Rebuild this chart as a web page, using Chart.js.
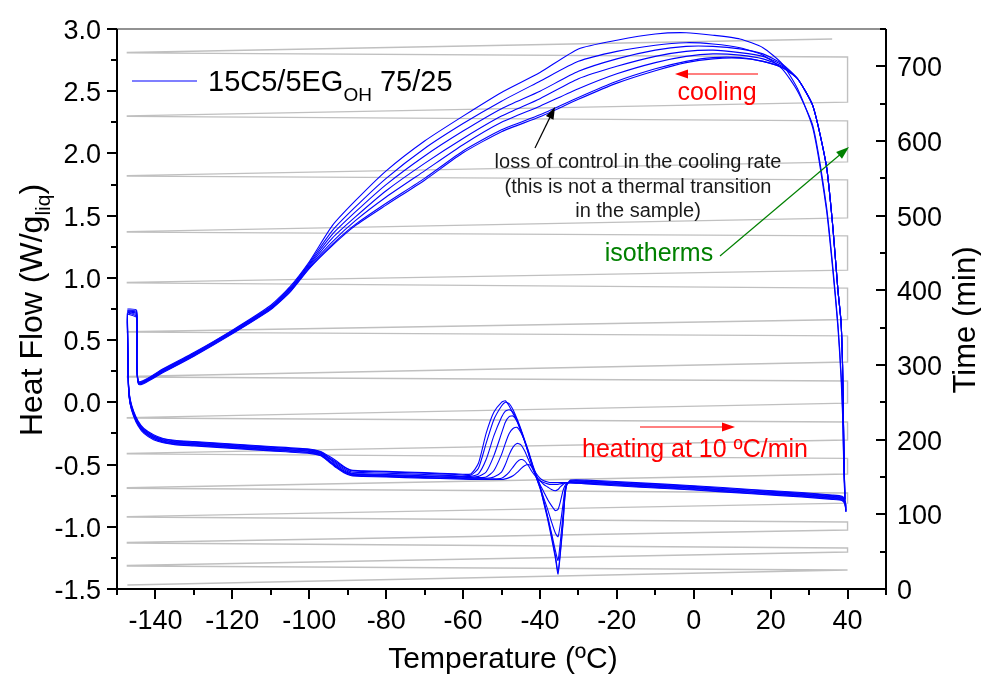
<!DOCTYPE html>
<html>
<head>
<meta charset="utf-8">
<title>DSC 15C5/5EGOH 75/25</title>
<script src="https://cdn.jsdelivr.net/npm/chart.js@4.4.1/dist/chart.umd.min.js"></script>
<style>
  html, body { margin: 0; padding: 0; background: #fff; }
  canvas { display: block; }
</style>
</head>
<body>
<canvas id="dscChart" width="981" height="680"></canvas>
<script>
// temperature grid (ºC) shared by the heating runs
var heatTemp = [-147.3, -147.2, -147.0, -146.6, -145.7, -144.5, -143, -140.5, -138, -135,
    -130, -120, -110, -100, -97, -95, -93, -91, -89, -86,
    -80, -70, -62, -58, -56, -54, -52, -50, -49, -48,
    -47, -46, -45, -44, -43, -42, -41, -40, -39, -38,
    -37, -36, -35.3, -34.7, -34, -33.5, -33, -32, -28, -15,
    0, 15, 28, 36, 38.6, 39.3, 39.6];

// heat flow (W/g) on heating, one array per run
var heatRun1 = [0.72, 0.45, 0.15, 0.03, -0.07, -0.15, -0.21, -0.26, -0.29, -0.305,
    -0.315, -0.335, -0.355, -0.375, -0.395, -0.43, -0.47, -0.515, -0.545, -0.55,
    -0.555, -0.565, -0.575, -0.575, -0.49, -0.25, -0.08, 0.0, 0.012, -0.03,
    -0.09, -0.15, -0.23, -0.31, -0.40, -0.50, -0.59, -0.68, -0.81, -0.94,
    -1.09, -1.25, -1.38, -1.22, -0.98, -0.76, -0.66, -0.625, -0.625, -0.645,
    -0.67, -0.70, -0.725, -0.745, -0.755, -0.78, -0.83];
var heatRun2 = [0.71, 0.44, 0.14, 0.02, -0.08, -0.16, -0.22, -0.27, -0.295, -0.31,
    -0.32, -0.34, -0.36, -0.38, -0.40, -0.44, -0.48, -0.52, -0.55, -0.555,
    -0.56, -0.57, -0.58, -0.585, -0.53, -0.33, -0.14, -0.03, 0.0, -0.01,
    -0.06, -0.13, -0.21, -0.30, -0.39, -0.49, -0.58, -0.67, -0.79, -0.92,
    -1.07, -1.23, -1.36, -1.20, -0.96, -0.75, -0.66, -0.63, -0.63, -0.65,
    -0.675, -0.705, -0.73, -0.75, -0.76, -0.79, -0.84];
var heatRun3 = [0.70, 0.43, 0.14, 0.02, -0.08, -0.16, -0.22, -0.27, -0.30, -0.315,
    -0.325, -0.345, -0.365, -0.385, -0.405, -0.445, -0.49, -0.53, -0.56, -0.565,
    -0.57, -0.58, -0.59, -0.595, -0.575, -0.46, -0.27, -0.12, -0.07, -0.06,
    -0.08, -0.14, -0.22, -0.31, -0.41, -0.51, -0.60, -0.69, -0.80, -0.92,
    -1.05, -1.19, -1.27, -1.12, -0.90, -0.73, -0.66, -0.635, -0.635, -0.655,
    -0.68, -0.71, -0.735, -0.755, -0.765, -0.79, -0.85];
var heatRun4 = [0.69, 0.42, 0.13, 0.01, -0.09, -0.17, -0.23, -0.28, -0.305, -0.32,
    -0.33, -0.35, -0.37, -0.39, -0.41, -0.45, -0.50, -0.54, -0.57, -0.575,
    -0.58, -0.59, -0.595, -0.60, -0.595, -0.56, -0.43, -0.25, -0.16, -0.115,
    -0.11, -0.15, -0.22, -0.31, -0.41, -0.51, -0.60, -0.68, -0.77, -0.86,
    -0.96, -1.05, -1.08, -0.98, -0.82, -0.70, -0.655, -0.64, -0.64, -0.66,
    -0.685, -0.715, -0.74, -0.76, -0.77, -0.80, -0.86];
var heatRun5 = [0.68, 0.41, 0.12, 0.0, -0.09, -0.17, -0.23, -0.28, -0.31, -0.325,
    -0.335, -0.355, -0.375, -0.395, -0.415, -0.46, -0.51, -0.55, -0.575, -0.58,
    -0.585, -0.595, -0.60, -0.605, -0.605, -0.60, -0.55, -0.42, -0.33, -0.25,
    -0.21, -0.20, -0.24, -0.31, -0.40, -0.50, -0.59, -0.66, -0.72, -0.78,
    -0.83, -0.87, -0.86, -0.80, -0.71, -0.67, -0.65, -0.645, -0.645, -0.665,
    -0.69, -0.72, -0.745, -0.765, -0.775, -0.80, -0.87];
var heatRun6 = [0.67, 0.40, 0.12, 0.0, -0.10, -0.18, -0.24, -0.29, -0.315, -0.33,
    -0.34, -0.36, -0.38, -0.40, -0.42, -0.465, -0.515, -0.555, -0.58, -0.585,
    -0.59, -0.60, -0.605, -0.61, -0.61, -0.61, -0.60, -0.56, -0.50, -0.42,
    -0.36, -0.33, -0.34, -0.39, -0.46, -0.53, -0.59, -0.63, -0.66, -0.68,
    -0.70, -0.71, -0.70, -0.68, -0.66, -0.65, -0.645, -0.645, -0.65, -0.67,
    -0.695, -0.725, -0.75, -0.77, -0.78, -0.81, -0.87];
var heatRun7 = [0.66, 0.40, 0.11, -0.01, -0.10, -0.18, -0.24, -0.29, -0.32, -0.335,
    -0.345, -0.365, -0.385, -0.405, -0.425, -0.47, -0.52, -0.56, -0.585, -0.59,
    -0.595, -0.605, -0.61, -0.615, -0.615, -0.615, -0.615, -0.61, -0.59, -0.56,
    -0.52, -0.48, -0.46, -0.47, -0.51, -0.56, -0.60, -0.63, -0.645, -0.655,
    -0.66, -0.66, -0.66, -0.655, -0.65, -0.645, -0.645, -0.645, -0.65, -0.675,
    -0.70, -0.73, -0.755, -0.775, -0.785, -0.81, -0.88];
var heatRun8 = [0.65, 0.39, 0.11, -0.01, -0.11, -0.19, -0.25, -0.30, -0.325, -0.34,
    -0.35, -0.37, -0.39, -0.41, -0.43, -0.475, -0.525, -0.565, -0.59, -0.595,
    -0.60, -0.61, -0.615, -0.62, -0.62, -0.62, -0.62, -0.62, -0.615, -0.605,
    -0.59, -0.565, -0.535, -0.51, -0.50, -0.52, -0.57, -0.61, -0.63, -0.64,
    -0.645, -0.645, -0.645, -0.645, -0.645, -0.645, -0.645, -0.645, -0.655, -0.68,
    -0.705, -0.735, -0.76, -0.78, -0.79, -0.82, -0.88];

// temperature grid (ºC) shared by the cooling runs (40 -> -147)
var coolTemp = [39.3, 39.0, 38.7, 38.3, 37.5, 36.2, 34.5, 31, 27, 23,
    18, 12, 5, -2, -10, -20, -30, -40, -50, -60,
    -70, -80, -88, -94, -100, -105, -110, -120, -130, -138,
    -144.4, -144.9, -147.3];

var coolRun1 = [-0.78, -0.5, -0.1, 0.2, 0.6, 1.05, 1.55, 2.2, 2.52, 2.72,
    2.85, 2.92, 2.95, 2.97, 2.96, 2.91, 2.84, 2.65, 2.49, 2.30,
    2.10, 1.86, 1.62, 1.42, 1.13, 0.93, 0.78, 0.58, 0.40, 0.27,
    0.17, 0.74, 0.75];
var coolRun2 = [-0.78, -0.45, -0.05, 0.25, 0.63, 1.08, 1.58, 2.22, 2.5, 2.68,
    2.79, 2.85, 2.88, 2.89, 2.87, 2.82, 2.74, 2.58, 2.42, 2.24,
    2.04, 1.80, 1.57, 1.38, 1.12, 0.92, 0.77, 0.575, 0.395, 0.265,
    0.165, 0.73, 0.74];
var coolRun3 = [-0.78, -0.3, 0.3, 0.65, 0.9, 1.4, 1.9, 2.38, 2.6, 2.72,
    2.80, 2.84, 2.86, 2.86, 2.83, 2.76, 2.66, 2.50, 2.36, 2.18,
    1.98, 1.75, 1.53, 1.35, 1.11, 0.91, 0.765, 0.57, 0.39, 0.26,
    0.16, 0.72, 0.735];
var coolRun4 = [-0.78, -0.3, 0.3, 0.65, 0.9, 1.4, 1.9, 2.38, 2.6, 2.71,
    2.78, 2.81, 2.83, 2.82, 2.78, 2.70, 2.60, 2.44, 2.30, 2.12,
    1.92, 1.70, 1.49, 1.32, 1.10, 0.905, 0.76, 0.565, 0.385, 0.255,
    0.158, 0.71, 0.73];
var coolRun5 = [-0.78, -0.3, 0.3, 0.65, 0.9, 1.4, 1.9, 2.38, 2.6, 2.70,
    2.76, 2.79, 2.80, 2.78, 2.73, 2.64, 2.52, 2.38, 2.25, 2.07,
    1.86, 1.65, 1.46, 1.29, 1.09, 0.90, 0.755, 0.56, 0.38, 0.25,
    0.155, 0.70, 0.725];
var coolRun6 = [-0.78, -0.3, 0.3, 0.65, 0.9, 1.4, 1.9, 2.38, 2.6, 2.69,
    2.74, 2.77, 2.77, 2.74, 2.68, 2.58, 2.45, 2.31, 2.19, 2.02,
    1.80, 1.60, 1.43, 1.27, 1.08, 0.89, 0.75, 0.555, 0.375, 0.245,
    0.15, 0.69, 0.72];
var coolRun7 = [-0.78, -0.3, 0.3, 0.65, 0.9, 1.4, 1.9, 2.38, 2.6, 2.69,
    2.74, 2.765, 2.76, 2.73, 2.665, 2.565, 2.435, 2.295, 2.175, 2.005,
    1.785, 1.585, 1.42, 1.26, 1.075, 0.885, 0.745, 0.55, 0.37, 0.24,
    0.145, 0.68, 0.71];

// temperature program (right axis): temperature (ºC) vs time (min)
var progTemp = [-147.3, 40, -147.3,
    -147.3, 40, 40, -147.3,
    -147.3, 40, 40, -147.3,
    -147.3, 40, 40, -147.3,
    -147.3, 40, 40, -147.3,
    -147.3, 40, 40, -147.3,
    -147.3, 40, 40, -147.3,
    -147.3, 40, 40, -147.3,
    -147.3, 40, 40, -147.3,
    -147.3, 40, 40, -147.3,
    -147.3, 40, 40, -147.3,
    -147.3, 40, 40, -147.3,
    -147.3, 40, 40, -147.3,
    -147.3, 36];
var progTime = [5.4, 25.4, 30.8,
    31.4, 49.6, 54.9, 61.6,
    62.2, 79, 89.7, 96.4,
    97, 115, 128.6, 135,
    135.6, 154, 175, 181,
    181.6, 199.5, 223.6, 229,
    229.6, 249, 278.6, 284,
    284.6, 304, 339, 344,
    344.6, 361, 403, 410,
    410.6, 427, 473, 478,
    478.6, 497, 548, 553,
    553.6, 572, 627, 633,
    633.6, 652, 712.5, 718,
    718.6, 736.6];

var xTickLabels = [-140, -120, -100, -80, -60, -40, -20, 0, 20, 40];
var yTickLabels = [-1.5, -1.0, -0.5, 0.0, 0.5, 1.0, 1.5, 2.0, 2.5, 3.0];
var y2TickLabels = [0, 100, 200, 300, 400, 500, 600, 700];

var FONT = '"Liberation Sans", Arial, Helvetica, sans-serif';

function toPoints(xs, ys) {
    return xs.map(function (x, i) { return { x: x, y: ys[i] }; });
}

function blueRun(xs, ys) {
    return {
        data: toPoints(xs, ys),
        borderColor: "#0000ff",
        borderWidth: 1.1,
        tension: 0.2,
        pointRadius: 0,
        fill: false,
        yAxisID: "y",
        order: 1,
    };
}

function text(ctx, str, x, y, size, color, align) {
    ctx.font = size + "px " + FONT;
    ctx.fillStyle = color;
    ctx.textAlign = align || "left";
    ctx.textBaseline = "alphabetic";
    ctx.fillText(str, x, y);
}

function arrow(ctx, x1, y1, x2, y2, color, head) {
    var ang = Math.atan2(y2 - y1, x2 - x1);
    ctx.strokeStyle = color;
    ctx.fillStyle = color;
    ctx.lineWidth = 1.2;
    ctx.beginPath();
    ctx.moveTo(x1, y1);
    ctx.lineTo(x2 - Math.cos(ang) * head * 0.8, y2 - Math.sin(ang) * head * 0.8);
    ctx.stroke();
    ctx.beginPath();
    ctx.moveTo(x2, y2);
    ctx.lineTo(x2 - head * Math.cos(ang) + head * 0.35 * Math.sin(ang), y2 - head * Math.sin(ang) - head * 0.35 * Math.cos(ang));
    ctx.lineTo(x2 - head * Math.cos(ang) - head * 0.35 * Math.sin(ang), y2 - head * Math.sin(ang) + head * 0.35 * Math.cos(ang));
    ctx.closePath();
    ctx.fill();
}

// axes, ticks, titles and notes in the Origin style
var overlay = {
    id: "overlay",
    afterDraw: function (chart) {
        var ctx = chart.ctx;
        var a = chart.chartArea;
        var sx = chart.scales.x, sy = chart.scales.y, s2 = chart.scales.y2;
        ctx.save();

        // frame
        ctx.strokeStyle = "#6e6e6e";
        ctx.lineWidth = 1.5;
        ctx.beginPath();
        ctx.moveTo(a.left, a.top);
        ctx.lineTo(a.right, a.top);
        ctx.stroke();
        ctx.strokeStyle = "#000";
        ctx.lineWidth = 2;
        ctx.beginPath();
        ctx.moveTo(a.left, a.top);
        ctx.lineTo(a.left, a.bottom);
        ctx.lineTo(a.right, a.bottom);
        ctx.lineTo(a.right, a.top);
        ctx.stroke();

        // ticks
        ctx.lineWidth = 2;
        ctx.beginPath();
        for (var v = -150; v <= 50; v += 10) {
            var px = Math.round(sx.getPixelForValue(v));
            var len = ((v + 140) % 20 === 0) ? 10 : 6;
            ctx.moveTo(px, a.bottom);
            ctx.lineTo(px, a.bottom + len);
        }
        for (var i = 0; i <= 18; i++) {
            var py = Math.round(sy.getPixelForValue(-1.5 + i * 0.25));
            ctx.moveTo(a.left - (i % 2 === 0 ? 10 : 6), py);
            ctx.lineTo(a.left, py);
        }
        for (var t = 0; t <= 750; t += 50) {
            var py2 = Math.round(s2.getPixelForValue(t));
            ctx.moveTo(a.right - (t % 100 === 0 ? 10 : 6), py2);
            ctx.lineTo(a.right, py2);
        }
        ctx.stroke();

        // tick labels
        xTickLabels.forEach(function (val) {
            text(ctx, String(val), sx.getPixelForValue(val), a.bottom + 40, 27, "#000", "center");
        });
        yTickLabels.forEach(function (val) {
            text(ctx, val.toFixed(1), a.left - 16, sy.getPixelForValue(val) + 10, 27, "#000", "right");
        });
        y2TickLabels.forEach(function (val) {
            text(ctx, String(val), a.right + 11, s2.getPixelForValue(val) + 10, 27, "#000", "left");
        });

        // axis titles
        text(ctx, "Temperature (ºC)", 503, 668, 30, "#000", "center");

        ctx.save();
        ctx.translate(42, 310);
        ctx.rotate(-Math.PI / 2);
        ctx.font = "32px " + FONT;
        var w1 = ctx.measureText("Heat Flow (W/g").width;
        ctx.font = "21px " + FONT;
        var w2 = ctx.measureText("liq").width;
        ctx.font = "32px " + FONT;
        var w3 = ctx.measureText(")").width;
        var x0 = -(w1 + w2 + w3) / 2;
        text(ctx, "Heat Flow (W/g", x0, 0, 32, "#000", "left");
        text(ctx, "liq", x0 + w1, 8, 21, "#000", "left");
        text(ctx, ")", x0 + w1 + w2, 0, 32, "#000", "left");
        ctx.restore();

        ctx.save();
        ctx.translate(975, 320);
        ctx.rotate(-Math.PI / 2);
        text(ctx, "Time (min)", 0, 0, 31, "#000", "center");
        ctx.restore();

        // legend
        ctx.strokeStyle = "#0000ff";
        ctx.lineWidth = 1.2;
        ctx.beginPath();
        ctx.moveTo(132, 81);
        ctx.lineTo(197, 81);
        ctx.stroke();
        ctx.font = "29px " + FONT;
        var lw1 = ctx.measureText("15C5/5EG").width;
        ctx.font = "19px " + FONT;
        var lw2 = ctx.measureText("OH").width;
        text(ctx, "15C5/5EG", 208, 91, 29, "#000", "left");
        text(ctx, "OH", 208 + lw1, 101, 19, "#000", "left");
        text(ctx, " 75/25", 208 + lw1 + lw2, 91, 29, "#000", "left");

        // notes
        arrow(ctx, 758, 74, 675, 74, "#ff0000", 13);
        text(ctx, "cooling", 717, 100, 25, "#ff0000", "center");

        arrow(ctx, 535, 148, 555, 107, "#000", 12);
        text(ctx, "loss of control in the cooling rate", 638, 168, 20, "#1a1a1a", "center");
        text(ctx, "(this is not a thermal transition", 638, 193, 20, "#1a1a1a", "center");
        text(ctx, "in the sample)", 638, 217, 20, "#1a1a1a", "center");

        text(ctx, "isotherms", 659, 261, 25, "#008000", "center");
        arrow(ctx, 720, 256, 849, 147, "#008000", 13);

        arrow(ctx, 640, 427, 735, 427, "#ff0000", 13);
        text(ctx, "heating at 10 ºC/min", 695, 457, 25, "#ff0000", "center");

        ctx.restore();
    },
};

window.onload = function () {
    var datasets = [
        blueRun(heatTemp, heatRun1),
        blueRun(heatTemp, heatRun2),
        blueRun(heatTemp, heatRun3),
        blueRun(heatTemp, heatRun4),
        blueRun(heatTemp, heatRun5),
        blueRun(heatTemp, heatRun6),
        blueRun(heatTemp, heatRun7),
        blueRun(heatTemp, heatRun8),
        blueRun(coolTemp, coolRun1),
        blueRun(coolTemp, coolRun2),
        blueRun(coolTemp, coolRun3),
        blueRun(coolTemp, coolRun4),
        blueRun(coolTemp, coolRun5),
        blueRun(coolTemp, coolRun6),
        blueRun(coolTemp, coolRun7),
        {
            data: toPoints(progTemp, progTime),
            borderColor: "rgb(192,192,192)",
            borderWidth: 1.4,
            tension: 0,
            pointRadius: 0,
            fill: false,
            yAxisID: "y2",
            order: 10,
        },
    ];

    var ctx = document.getElementById("dscChart").getContext("2d");
    var dscChart = new Chart(ctx, {
        type: "line",
        data: { datasets: datasets },
        options: {
            responsive: false,
            animation: false,
            layout: { padding: { left: 117, right: 95, top: 29, bottom: 91 } },
            scales: {
                x: { type: "linear", min: -150, max: 50, display: false },
                y: { type: "linear", min: -1.5, max: 3, display: false },
                y2: { type: "linear", position: "right", min: 0, max: 750, display: false },
            },
            plugins: {
                legend: { display: false },
                tooltip: { enabled: false },
            },
        },
        plugins: [overlay],
    });
};
</script>
</body>
</html>
